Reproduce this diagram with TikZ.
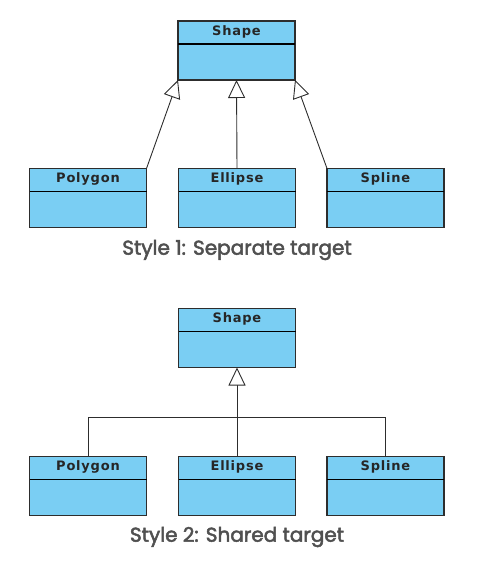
\documentclass[tikz,border=0pt]{standalone}
\usepackage{fontspec}
\setmainfont{DejaVu Sans}
\newfontfamily\hdrfont[LetterSpace=6]{DejaVu Sans Bold}
\newfontfamily\capfont[FakeBold=2.5]{Poppins}
\usetikzlibrary{arrows.meta}
\definecolor{boxblue}{RGB}{122,206,243}
\definecolor{edgegray}{RGB}{45,45,45}
\definecolor{capgray}{RGB}{80,80,80}
\tikzset{
  classbox/.style={draw=edgegray, line width=1.2pt, fill=boxblue, minimum width=117pt, minimum height=59pt, inner sep=0pt, outer sep=0pt},
  hdr/.style={anchor=north, inner sep=0pt, font=\hdrfont\fontsize{13}{15}\selectfont, text=black!85},
  divider/.style={draw=black, line width=1.1pt},
  gen/.style={draw=edgegray, line width=0.9pt, -{Triangle[open, width=17pt, length=18pt, fill=white, line width=0.9pt]}},
  plain/.style={draw=edgegray, line width=0.9pt},
  caption/.style={font=\capfont\fontsize{20}{24}\selectfont, text=capgray, inner sep=0pt}
}
\newcommand{\umlhead}[2]{%
  \node[hdr] (#1h) at ([yshift=-4pt]#1.north) {#2};
  \draw[divider] ([yshift=-23pt]#1.north west) -- ([yshift=-23pt]#1.north east);}
\begin{document}
\begin{tikzpicture}[x=1pt,y=1pt]
\useasboundingbox (0,0) rectangle (480,-577);
% Style 1
\node[classbox] (s1) at (236.5,-50.5) {};
\node[classbox] (p1) at (88,-198) {};
\node[classbox] (e1) at (237,-198) {};
\node[classbox] (l1) at (385.5,-198) {};
\umlhead{s1}{Shape}
\umlhead{p1}{Polygon}
\umlhead{e1}{Ellipse}
\umlhead{l1}{Spline}
\draw[gen] (p1.north east) -- (s1.south west);
\draw[gen] (e1.north) -- (s1.south);
\draw[gen] (l1.north west) -- (s1.south east);
\node[caption] (c1) at (237,-250) {Style 1: Separate target};
% Style 2
\node[classbox] (s2) at (237,-338) {};
\node[classbox] (p2) at (88,-486) {};
\node[classbox] (e2) at (237,-486) {};
\node[classbox] (l2) at (385.5,-486) {};
\umlhead{s2}{Shape}
\umlhead{p2}{Polygon}
\umlhead{e2}{Ellipse}
\umlhead{l2}{Spline}
\coordinate (j) at (237,-417);
\draw[plain] (p2.north) |- (j);
\draw[plain] (l2.north) |- (j);
\draw[gen] (e2.north) -- (s2.south);
\node[caption] (c2) at (237,-537) {Style 2: Shared target};
\end{tikzpicture}
\end{document}
